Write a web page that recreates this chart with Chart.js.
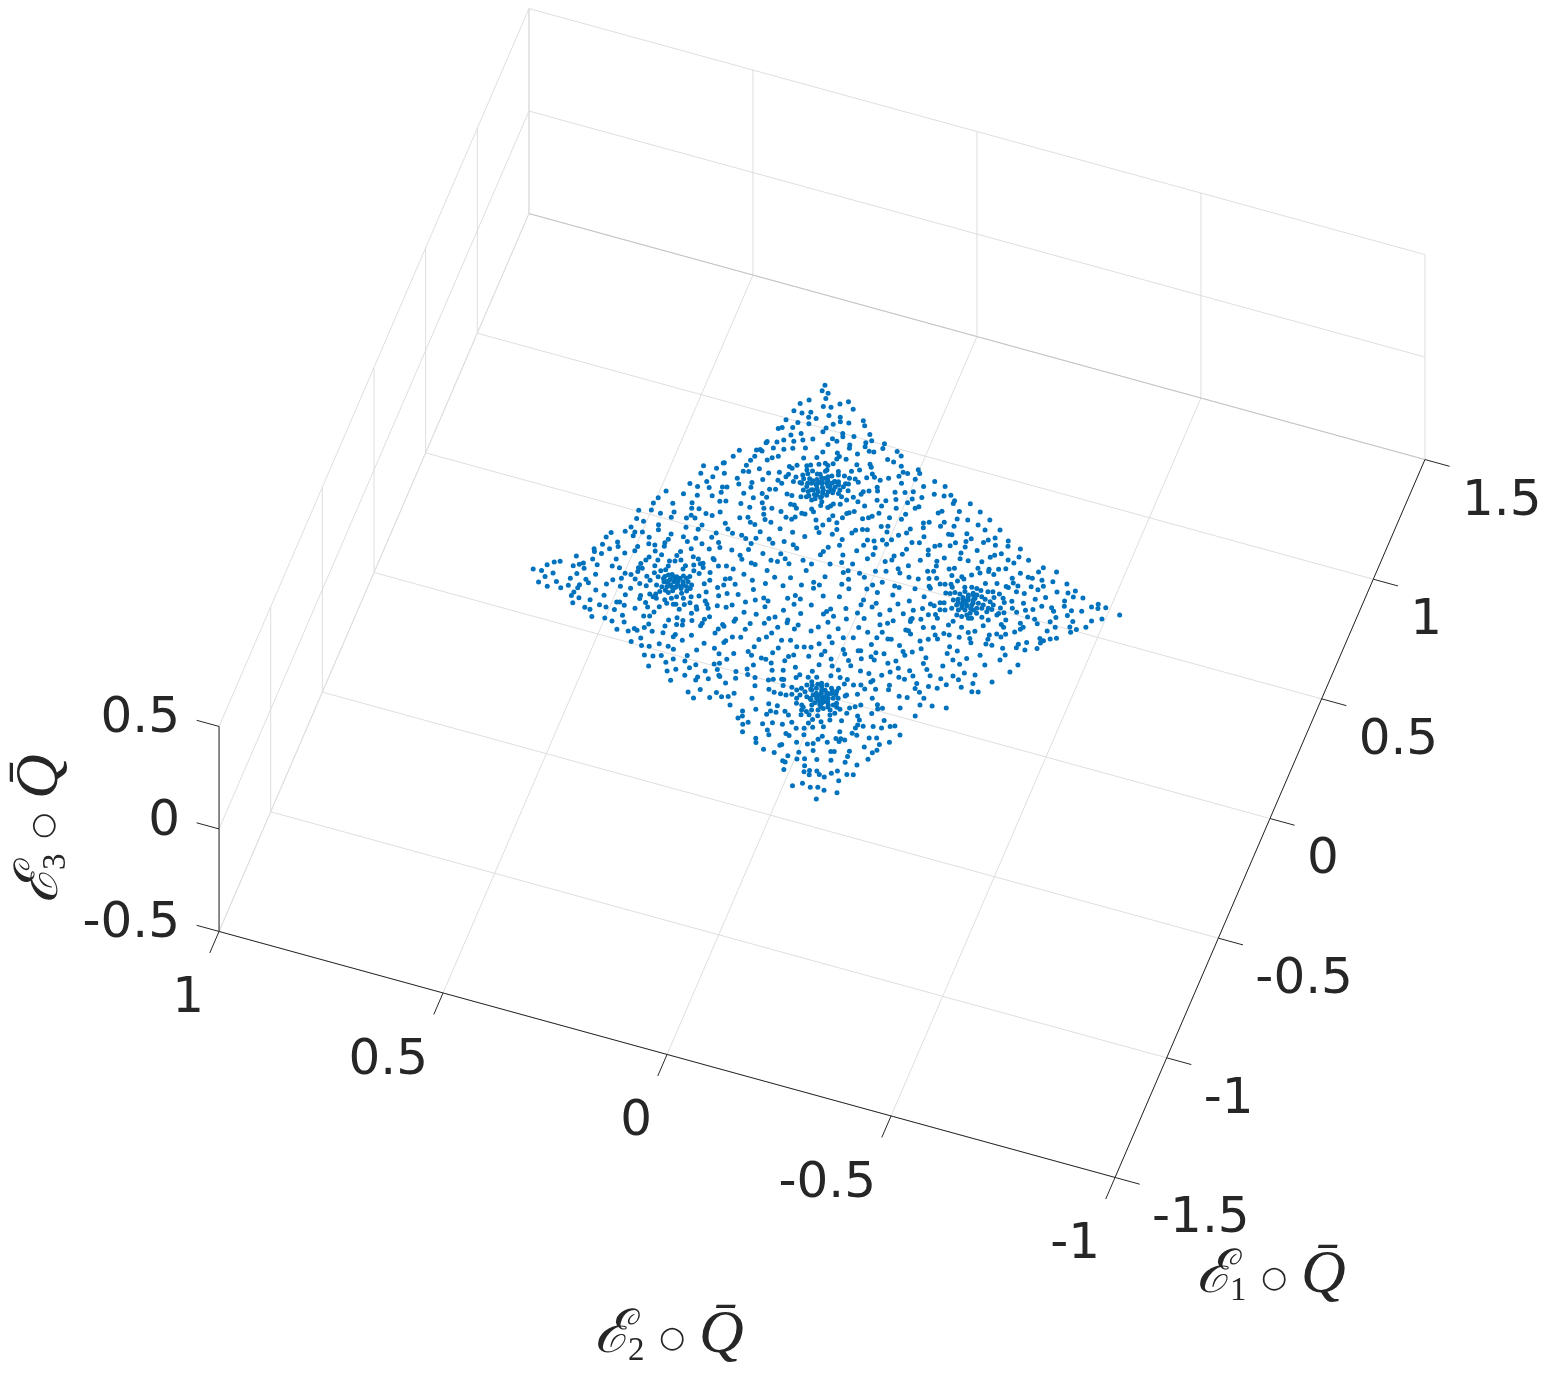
<!DOCTYPE html>
<html>

    <head>
        <title>Surface scatter</title>
        <script src="https://cdnjs.cloudflare.com/ajax/libs/Chart.js/4.4.1/chart.umd.min.js"></script>
        <style>
            body { margin: 0; background: #fff; }
            canvas { display: block; }
        </style>
    </head>

    <body>
        <canvas id="myChart" width="1547" height="1373"></canvas>

        <script>
            // Axis ticks
            const e1Ticks = [-1.5, -1, -0.5, 0, 0.5, 1, 1.5];
            const e2Ticks = [-1, -0.5, 0, 0.5, 1];
            const e3Ticks = [-0.5, 0, 0.5];
            const e1TickLabels = ["-1.5", "-1", "-0.5", "0", "0.5", "1", "1.5"];
            const e2TickLabels = ["-1", "-0.5", "0", "0.5", "1"];
            const e3TickLabels = ["-0.5", "0", "0.5"];

            // All samples sit on one level of the third axis
            const surfaceLevel = 0;

            // Samples as [E1, E2], grouped by part of the surface
            const upperLeftPoints = [[.779,.173],[.756,.174],[.753,.160],[.731,.160],[.686,.207],[.708,.192],[.698,.158],[.652,.213],[.652,.195],[.664,.178],[.643,.178],[.646,.162],[.610,.221],[.612,.195],[.619,.172],[.577,.222],[.570,.229],[.588,.201],[.621,.134],[.603,.137],[.574,.179],[.558,.198],[.532,.208],[.552,.170],[.566,.151],[.538,.187],[.518,.220],[.510,.240],[.504,.241],[.561,.116],[.525,.158],[.511,.183],[.498,.200],[.492,.222],[.467,.254],[.473,.247],[.469,.242],[.449,.288],[.528,.120],[.420,.295],[.442,.252],[.423,.257],[.466,.205],[.454,.216],[.441,.224],[.486,.153],[.501,.127],[.400,.261],[.354,.346],[.384,.309],[.386,.307],[.358,.318],[.452,.160],[.439,.174],[.435,.167],[.400,.232],[.374,.262],[.379,.251],[.347,.298],[.323,.345],[.322,.318],[.394,.210],[.407,.189],[.409,.169],[.397,.172],[.407,.152],[.342,.268],[.363,.216],[.376,.185],[.387,.153],[.274,.358],[.298,.326],[.341,.235],[.322,.260],[.369,.175],[.460,.140],[.467,.133],[.478,.117],[.488,.105],[.482,.098],[.421,.140],[.444,.136],[.431,.131],[.446,.124],[.440,.112],[.442,.106],[.458,.098],[.465,.096],[.390,.139],[.408,.135],[.414,.123],[.395,.123],[.410,.115],[.419,.108],[.411,.101],[.432,.092],[.441,.088]];

            const upperRightPoints = [[.725,.127],[.742,.112],[.703,.142],[.718,.096],[.670,.139],[.675,.115],[.659,.111],[.686,.066],[.642,.123],[.663,.093],[.669,.059],[.617,.096],[.605,.093],[.641,.041],[.617,.071],[.587,.112],[.582,.101],[.620,.032],[.606,.042],[.622,.004],[.581,.072],[.569,.070],[.591,.040],[.602,.003],[.578,.028],[.580,.018],[.606,-.028],[.539,.090],[.556,.049],[.528,.083],[.516,.086],[.593,-.040],[.524,.067],[.566,-.016],[.563,-.030],[.494,.089],[.515,.041],[.530,.015],[.520,.010],[.555,-.049],[.498,.031],[.485,.046],[.471,.072],[.534,-.058],[.534,-.068],[.559,-.086],[.547,-.092],[.496,.002],[.486,-.005],[.460,.056],[.458,.069],[.447,.081],[.457,.044],[.460,.032],[.476,.010],[.481,-.019],[.497,-.034],[.515,-.053],[.521,-.088],[.532,-.129],[.451,.023],[.432,.047],[.492,-.064],[.433,.063],[.429,.071]];

            const midFarLeftPoints = [[.221,.399],[.188,.409],[.163,.414],[.182,.375],[.121,.437],[.135,.412],[.132,.391],[.088,.434],[.085,.418],[.128,.366],[.151,.365],[.087,.385],[.069,.381],[.051,.438],[.029,.446],[.036,.426],[.044,.411],[.010,.473],[.020,.426],[-.012,.479],[.066,.352],[.031,.393],[.043,.353],[-.019,.452],[-.043,.480],[.006,.388],[.008,.375],[.027,.357],[.013,.355],[-.035,.447],[-.015,.408],[-.068,.493],[-.078,.490],[-.053,.462],[-.034,.410],[-.014,.369],[-.079,.474],[-.053,.428],[-.114,.522],[-.022,.353],[-.043,.376],[-.108,.487],[-.084,.440],[-.057,.380],[-.045,.356],[-.037,.332],[-.150,.550],[-.159,.561],[-.176,.573],[-.076,.387],[-.153,.520],[-.142,.509],[-.133,.502],[-.125,.473],[-.094,.388],[-.092,.380],[-.207,.597],[-.204,.579],[-.152,.496],[-.114,.442],[-.113,.426],[-.109,.386],[-.201,.554],[-.179,.506],[-.162,.468],[-.128,.410],[-.127,.397],[-.222,.567],[-.203,.515],[-.191,.483],[-.117,.364],[-.151,.413],[-.139,.385],[-.201,.475],[-.165,.429],[-.250,.575],[-.229,.540],[-.151,.372],[-.129,.354],[-.231,.513],[-.218,.491],[-.257,.554],[-.248,.526],[-.231,.492],[-.187,.438],[-.182,.408],[-.179,.386],[-.153,.357],[-.221,.454],[-.070,.357],[-.096,.352],[-.082,.341],[-.074,.332],[-.057,.330],[-.107,.341],[-.108,.329],[-.090,.322],[-.091,.311],[-.140,.337],[-.141,.325],[-.117,.320],[-.130,.306]];

            const midLeftPoints = [[.270,.340],[.278,.316],[.294,.290],[.299,.281],[.322,.233],[.229,.362],[.237,.333],[.273,.288],[.251,.303],[.292,.242],[.310,.205],[.334,.194],[.340,.182],[.204,.337],[.238,.283],[.245,.271],[.251,.239],[.285,.219],[.301,.193],[.276,.197],[.334,.155],[.333,.144],[.183,.333],[.189,.318],[.246,.218],[.257,.189],[.265,.173],[.262,.152],[.299,.139],[.300,.131],[.290,.124],[.178,.300],[.177,.286],[.198,.273],[.156,.328],[.141,.335],[.150,.318],[.197,.229],[.207,.213],[.234,.184],[.216,.177],[.246,.137],[.244,.124],[.256,.119],[.277,.109],[.278,.102],[.303,.093],[.295,.087],[.326,.078],[.161,.253],[.191,.204],[.187,.193],[.212,.163],[.267,.075],[.255,.057],[.131,.298],[.106,.328],[.111,.302],[.143,.243],[.238,.067],[.197,.139],[.116,.263],[.131,.230],[.165,.176],[.197,.111],[.133,.210],[.223,.058],[.068,.325],[.075,.299],[.095,.268],[.125,.199],[.137,.179],[.148,.152],[.193,.083],[.054,.313],[.083,.250],[.061,.282],[.135,.141],[.154,.120],[.112,.184],[.151,.099],[.141,.089],[.031,.299],[.049,.263],[.065,.243],[.068,.217],[.087,.184],[.087,.152],[.104,.116],[.010,.318],[-.009,.322],[.156,.033],[.141,.036],[.003,.288],[.000,.276],[.057,.196],[.090,.103],[.017,.247],[.014,.244],[.044,.189],[.070,.130],[.103,.066],[.098,.046],[-.031,.321],[-.021,.310],[-.011,.263],[.040,.167],[.038,.158],[.072,.116],[.075,.091],[-.038,.296],[-.027,.280],[-.016,.268],[-.005,.230],[.003,.214],[-.001,.198],[.028,.129],[.068,.051],[-.027,.259],[-.053,.298],[-.048,.275],[-.053,.262],[-.010,.172],[-.038,.241],[.010,.108],[.025,.076],[-.047,.205],[-.040,.196],[-.067,.235],[-.024,.150],[-.086,.243],[-.071,.203],[-.056,.181],[-.023,.121],[-.013,.084],[.009,.048],[.032,.026],[.027,.012],[.009,.021],[-.087,.213],[-.118,.267],[-.057,.140],[.389,.135],[.382,.122],[.399,.115],[.398,.104],[.409,.095],[.366,.126],[.365,.115],[.376,.106],[.375,.095],[.386,.086],[.338,.125],[.344,.114],[.337,.101],[.360,.084],[.361,.095],[.341,.079],[-.088,.304],[-.091,.296],[-.079,.291],[-.084,.283],[-.074,.278],[-.105,.297],[-.100,.287],[-.095,.277],[-.125,.296],[-.120,.286],[-.115,.276],[-.104,.267],[-.102,.305],[-.105,.315],[-.115,.318],[-.125,.310],[-.130,.298],[-.110,.305],[-.098,.300],[-.120,.325],[-.135,.315],[-.085,.315],[-.145,.300],[-.100,.328],[-.118,.295],[-.150,.315],[-.108,.285],[-.128,.285]];

            const midRightPoints = [[.415,.085],[.406,.076],[.429,.070],[.420,.060],[.397,.066],[.403,.053],[.419,.049],[.434,.041],[.385,.075],[.389,.053],[.409,.036],[.380,.044],[.373,.031],[.390,.020],[.452,-.019],[.502,-.111],[.524,-.154],[.429,-.006],[.421,.005],[.409,.007],[.438,-.023],[.451,-.059],[.461,-.079],[.472,-.095],[.484,-.139],[.488,-.160],[.497,-.173],[.459,-.117],[.444,-.099],[.425,-.067],[.410,-.048],[.403,-.030],[.425,-.093],[.378,.007],[.481,-.185],[.469,-.185],[.486,-.219],[.350,.040],[.344,.054],[.334,.058],[.325,.062],[.369,-.010],[.386,-.044],[.393,-.075],[.412,-.113],[.422,-.119],[.445,-.204],[.428,-.169],[.418,-.163],[.338,.006],[.328,.015],[.322,.019],[.300,.045],[.302,.024],[.281,.049],[.356,-.045],[.380,-.099],[.338,-.034],[.329,-.028],[.319,-.017],[.350,-.070],[.357,-.095],[.415,-.206],[.422,-.228],[.278,.031],[.366,-.142],[.374,-.153],[.390,-.183],[.371,-.179],[.348,-.146],[.317,-.074],[.309,-.061],[.385,-.206],[.252,.025],[.269,-.013],[.279,-.026],[.283,-.036],[.330,-.121],[.255,-.008],[.295,-.077],[.230,.030],[.311,-.117],[.294,-.103],[.349,-.202],[.351,-.209],[.370,-.238],[.315,-.155],[.221,.006],[.245,-.045],[.248,-.059],[.260,-.075],[.270,-.093],[.356,-.251],[.340,-.243],[.281,-.136],[.288,-.151],[.325,-.223],[.248,-.087],[.221,-.042],[.196,.006],[.224,-.067],[.290,-.185],[.299,-.194],[.308,-.215],[.177,.027],[.319,-.246],[.250,-.131],[.193,-.033],[.270,-.175],[.252,-.179],[.227,-.127],[.196,-.069],[.163,-.009],[.292,-.243],[.212,-.112],[.175,-.061],[.195,-.111],[.182,-.099],[.223,-.168],[.256,-.214],[.270,-.246],[.236,-.202],[.270,-.264],[.134,-.013],[.117,.009],[.140,-.036],[.190,-.149],[.218,-.205],[.196,-.204],[.190,-.192],[.220,-.233],[.228,-.243],[.147,-.109],[.136,-.088],[.169,-.131],[.155,-.138],[.110,-.033],[.098,-.025],[.112,-.058],[.102,-.071],[.199,-.244],[.064,.008],[.148,-.160],[.151,-.180],[.164,-.201],[.173,-.216],[.221,-.283],[.204,-.265],[.198,-.271],[.184,-.260],[.079,-.041],[.102,-.111],[.082,-.094],[.101,-.139],[.100,-.149],[.053,-.032],[.155,-.228],[.159,-.238],[.165,-.250],[.135,-.208],[.155,-.255],[.168,-.280],[.175,-.294],[.061,-.086],[.043,-.050],[.111,-.182],[.129,-.212],[.465,-.246],[.445,-.272],[.403,-.271],[.418,-.301],[.414,-.253],[.383,-.298]];

            const farRightPoints = [[.369,-.286],[.354,-.279],[.356,-.305],[.385,-.327],[.365,-.331],[.318,-.273],[.368,-.358],[.331,-.324],[.318,-.312],[.306,-.305],[.337,-.362],[.314,-.343],[.281,-.292],[.334,-.384],[.309,-.357],[.252,-.290],[.260,-.313],[.251,-.314],[.237,-.298],[.270,-.332],[.279,-.346],[.321,-.420],[.301,-.414],[.277,-.379],[.319,-.450],[.245,-.327],[.270,-.398],[.271,-.407],[.250,-.367],[.273,-.428],[.279,-.451],[.203,-.318],[.215,-.341],[.234,-.373],[.227,-.385],[.213,-.362],[.212,-.367],[.238,-.412],[.252,-.436],[.285,-.481],[.234,-.428],[.267,-.504],[.245,-.468],[.204,-.387],[.206,-.404],[.252,-.491],[.175,-.330],[.180,-.340],[.178,-.355],[.243,-.505],[.213,-.450],[.249,-.525],[.160,-.347],[.166,-.366],[.195,-.431],[.219,-.491],[.164,-.386],[.151,-.372],[.168,-.411],[.176,-.450],[.199,-.495],[.241,-.561],[.224,-.550],[.225,-.564],[.236,-.579],[.180,-.471],[.155,-.435],[.138,-.393],[.127,-.369],[.144,-.421],[.169,-.478],[.190,-.513],[.198,-.534],[.113,-.380],[.128,-.405],[.105,-.370],[.168,-.509],[.223,-.613],[.121,-.431],[.148,-.488],[.120,-.447],[.190,-.581],[.172,-.562],[.151,-.525],[.088,-.390],[.127,-.480],[.090,-.422],[.106,-.456],[.066,-.385],[.043,-.350],[.058,-.392],[.111,-.495],[.078,-.431],[.143,-.556],[.127,-.524],[.125,-.539],[.068,-.427],[.052,-.418],[.089,-.482],[.108,-.530],[.014,-.338],[.026,-.384],[.034,-.402],[.015,-.370],[.019,-.395],[-.003,-.371],[.054,-.474],[.071,-.507],[.062,-.495],[.049,-.483],[.037,-.479],[.025,-.451],[.010,-.436],[-.021,-.384],[-.022,-.371],[-.005,-.435],[-.021,-.408],[.013,-.477],[-.005,-.454],[.176,-.305],[.172,-.315],[.151,-.311],[.150,-.322],[.144,-.331],[.140,-.343],[.131,-.352],[.122,-.321],[.121,-.332],[.114,-.345],[.102,-.322],[.107,-.332],[.099,-.345],[.113,-.353],[.083,-.326],[.073,-.340],[.070,-.355],[.097,-.368],[.137,-.310],[-.102,-.387],[-.068,-.413],[-.068,-.453],[-.158,-.416],[-.210,-.397],[-.044,-.419],[-.070,-.369],[-.102,-.443],[-.149,-.376],[-.350,-.255],[-.364,-.292],[-.309,-.317],[-.302,-.347],[-.422,-.260],[-.451,-.278],[-.318,-.292]];

            const lowFarLeftPoints = [[-.251,.496],[-.266,.498],[-.232,.433],[-.267,.481],[-.292,.489],[-.263,.457],[-.208,.391],[-.195,.360],[-.208,.359],[-.244,.402],[-.241,.396],[-.216,.344],[-.297,.461],[-.274,.419],[-.272,.434],[-.249,.384],[-.299,.449],[-.275,.400],[-.249,.360],[-.231,.336],[-.218,.313],[-.243,.319],[-.324,.439],[-.316,.412],[-.288,.379],[-.269,.336],[-.263,.324],[-.320,.395],[-.311,.370],[-.258,.283],[-.294,.319],[-.311,.325],[-.346,.378],[-.341,.354],[-.325,.344],[-.329,.337],[-.317,.306],[-.284,.285],[-.312,.283],[-.354,.323],[-.316,.259],[-.377,.339],[-.381,.315],[-.376,.299],[-.357,.281],[-.357,.261],[-.363,.248],[-.414,.301],[-.409,.283],[-.398,.267],[-.399,.240],[-.419,.252],[-.451,.283],[-.450,.242],[-.481,.227],[-.180,.343],[-.187,.334],[-.190,.326],[-.161,.325],[-.156,.307],[-.187,.308],[-.174,.296],[-.195,.287],[-.198,.301],[-.174,.331],[-.513,.087],[-.553,.060]];

            const lowLeftPoints = [[-.115,.232],[-.116,.204],[-.099,.189],[-.092,.166],[-.137,.243],[-.148,.258],[-.162,.272],[-.172,.255],[-.192,.282],[-.184,.265],[-.150,.226],[-.160,.220],[-.174,.214],[-.180,.239],[-.189,.236],[-.155,.198],[-.152,.179],[-.137,.169],[-.112,.145],[-.095,.127],[-.078,.112],[-.085,.101],[-.110,.102],[-.055,.064],[-.037,.051],[-.045,.038],[-.071,.046],[-.056,.011],[-.207,.271],[-.210,.243],[-.152,.139],[-.147,.113],[-.104,.062],[-.098,.025],[-.241,.268],[-.245,.254],[-.236,.236],[-.204,.204],[-.219,.212],[-.150,.084],[-.138,.073],[-.136,.045],[-.147,.044],[-.010,-.005],[-.077,-.021],[-.186,.150],[-.196,.151],[-.236,.213],[-.247,.214],[-.267,.263],[-.263,.251],[-.220,.171],[-.225,.167],[-.188,.117],[-.172,.089],[-.144,.020],[-.173,.059],[-.241,.176],[-.214,.122],[-.163,.024],[-.131,-.022],[-.259,.179],[-.201,.066],[-.221,.073],[-.153,-.011],[-.305,.257],[-.292,.224],[-.256,.141],[-.249,.124],[-.238,.086],[-.218,.040],[-.209,.022],[-.277,.151],[-.286,.153],[-.309,.192],[-.320,.238],[-.193,-.038],[-.317,.167],[-.270,.089],[-.227,.004],[-.220,-.011],[-.214,-.025],[-.342,.201],[-.294,.097],[-.274,.047],[-.250,.040],[-.261,.003],[-.272,.012],[-.250,-.028],[-.231,-.052],[-.333,.153],[-.317,.124],[-.372,.215],[-.305,.087],[-.305,.065],[-.305,.055],[-.291,.016],[-.345,.133],[-.395,.215],[-.314,.041],[-.376,.154],[-.368,.144],[-.398,.190],[-.415,.200],[-.339,.075],[-.271,-.056],[-.435,.226],[-.393,.143],[-.361,.084],[-.340,.033],[-.328,.011],[-.305,-.011],[-.411,.166],[-.382,.104],[-.302,-.048],[-.328,-.026],[-.342,-.021],[-.413,.135],[-.417,.132],[-.381,.078],[-.448,.203],[-.441,.176],[-.455,.177],[-.437,.153],[-.407,.099],[-.384,.061],[-.372,.023],[-.380,.032],[-.364,.006],[-.362,.002],[-.435,.115],[-.415,.054],[-.485,.160],[-.385,-.002],[-.507,.182],[-.480,.125],[-.465,.089],[-.483,.098],[-.491,.111],[-.506,.134],[-.524,.166],[-.420,.010],[-.419,-.004],[-.418,-.016],[-.409,-.027],[-.414,.023],[-.465,.049],[-.383,-.021],[-.388,-.033],[-.377,-.041],[-.359,-.049],[-.342,-.056],[-.329,-.045],[-.320,-.062],[-.338,-.077],[-.386,-.051],[-.373,-.063],[-.362,-.071],[-.363,-.083],[-.404,-.044],[-.403,-.059],[-.390,-.070],[-.383,-.084],[-.406,-.067],[-.399,-.080],[-.392,-.093],[-.419,-.040],[-.163,.287],[-.145,.280],[-.131,.272]];

            const lowRightPoints = [[.059,-.110],[.065,-.143],[.091,-.207],[.004,-.038],[.016,-.089],[-.004,-.088],[.017,-.117],[-.001,-.112],[.037,-.161],[.060,-.181],[.070,-.226],[.067,-.235],[.085,-.244],[.089,-.252],[.127,-.247],[.058,-.250],[.063,-.260],[-.051,-.031],[-.033,-.061],[-.064,-.025],[-.038,-.088],[.029,-.197],[.045,-.214],[-.021,-.134],[.006,-.150],[.006,-.180],[.028,-.231],[.036,-.245],[-.075,-.043],[-.072,-.071],[-.052,-.106],[-.007,-.200],[-.003,-.202],[.003,-.220],[.024,-.252],[-.103,-.037],[-.059,-.143],[-.046,-.157],[-.031,-.166],[-.016,-.201],[.029,-.286],[.010,-.280],[-.117,-.063],[-.091,-.103],[-.052,-.199],[-.052,-.205],[-.025,-.232],[-.015,-.252],[.015,-.308],[-.100,-.125],[-.085,-.154],[-.062,-.212],[-.041,-.262],[-.026,-.278],[-.026,-.290],[.002,-.326],[-.156,-.052],[-.145,-.081],[-.135,-.101],[-.111,-.148],[-.104,-.171],[-.102,-.178],[-.079,-.237],[-.064,-.252],[-.053,-.270],[-.025,-.312],[-.018,-.334],[-.175,-.063],[-.142,-.143],[-.117,-.200],[-.033,-.340],[-.070,-.301],[-.107,-.246],[-.189,-.091],[-.179,-.122],[-.176,-.127],[-.135,-.212],[-.128,-.231],[-.215,-.056],[-.168,-.159],[-.163,-.176],[-.078,-.320],[-.098,-.302],[-.205,-.098],[-.148,-.219],[-.188,-.153],[-.205,-.135],[-.197,-.162],[-.135,-.263],[-.237,-.075],[-.225,-.111],[-.116,-.319],[-.096,-.345],[-.178,-.206],[-.195,-.192],[-.159,-.263],[-.149,-.304],[-.125,-.336],[-.262,-.083],[-.242,-.120],[-.203,-.217],[-.271,-.099],[-.252,-.144],[-.201,-.242],[-.178,-.275],[-.225,-.204],[-.253,-.163],[-.153,-.353],[-.300,-.089],[-.297,-.109],[-.246,-.190],[-.217,-.253],[-.198,-.287],[-.176,-.333],[-.236,-.226],[-.297,-.125],[-.238,-.239],[-.199,-.311],[-.184,-.347],[-.275,-.177],[-.282,-.174],[-.241,-.267],[-.215,-.327],[-.183,-.379],[-.311,-.142],[-.317,-.123],[-.304,-.157],[-.275,-.214],[-.240,-.293],[-.238,-.312],[-.209,-.359],[-.261,-.268],[-.315,-.168],[-.305,-.190],[-.293,-.216],[-.271,-.280],[-.339,-.115],[-.342,-.158],[-.215,-.384],[-.307,-.243],[-.303,-.260],[-.342,-.191],[-.289,-.294],[-.361,-.135],[.130,-.256],[.138,-.265],[.138,-.276],[.152,-.284],[.143,-.294],[.154,-.302],[.109,-.268],[.116,-.277],[.119,-.288],[.124,-.298],[.129,-.308],[.093,-.279],[.099,-.289],[.104,-.299],[.109,-.309],[.076,-.272],[.076,-.287],[.083,-.300],[.076,-.313],[.056,-.288],[.055,-.299],[.059,-.320],[.056,-.314],[.066,-.308],[.092,-.317],[-.339,-.089],[-.346,-.101],[-.370,-.096],[-.365,-.106],[-.353,-.114],[-.387,-.103],[-.377,-.123],[-.356,-.137],[-.382,-.113]];

            const bottomPoints = [[-.468,.011],[-.467,-.008],[-.502,.032],[-.522,.057],[-.494,.001],[-.493,-.011],[-.510,.006],[-.480,-.028],[-.490,-.038],[-.476,-.063],[-.468,-.079],[-.463,-.097],[-.424,-.153],[-.379,-.174],[-.361,-.207],[-.369,-.220],[-.376,-.211],[-.391,-.164],[-.401,-.154],[-.399,-.203],[-.541,.053],[-.559,.036],[-.549,.006],[-.536,-.013],[-.531,-.034],[-.514,-.051],[-.500,-.085],[-.482,-.090],[-.482,-.109],[-.466,-.125],[-.457,-.149],[-.423,-.177],[-.436,-.184],[-.413,-.234],[-.572,.045],[-.511,-.097],[-.498,-.118],[-.532,-.065],[-.524,-.081],[-.568,-.009],[-.456,-.197],[-.446,-.217],[-.457,-.185],[-.470,-.183],[-.443,-.235],[-.429,-.251],[-.600,.039],[-.500,-.155],[-.493,-.181],[-.584,-.016],[-.562,-.049],[-.566,-.057],[-.548,-.086],[-.496,-.192],[-.535,-.124],[-.550,-.118],[-.529,-.153],[-.525,-.163],[-.537,-.162],[-.526,-.172],[-.493,-.219],[-.486,-.234],[-.611,.007],[-.626,.003],[-.584,-.078],[-.579,-.101],[-.571,-.112],[-.552,-.139],[-.507,-.245],[-.488,-.263],[-.607,-.050],[-.612,-.047],[-.532,-.217],[-.644,-.018],[-.598,-.118],[-.583,-.154],[-.580,-.161],[-.563,-.191],[-.531,-.245],[-.545,-.238],[-.645,-.042],[-.619,-.091],[-.643,-.072],[-.585,-.192],[-.646,-.093],[-.637,-.108],[-.627,-.133],[-.574,-.235],[-.667,-.066],[-.669,-.072],[-.616,-.162],[-.609,-.192],[-.663,-.114],[-.607,-.218],[-.699,-.076],[-.686,-.118],[-.676,-.128],[-.670,-.143],[-.649,-.184],[-.692,-.131],[-.681,-.151],[-.664,-.174],[-.653,-.206],[-.647,-.219],[-.685,-.163],[-.684,-.195],[-.731,-.125],[-.750,-.107],[-.738,-.144],[-.730,-.159],[-.735,-.174],[-.731,-.202],[-.775,-.166],[-.438,-.044],[-.439,-.056],[-.446,-.061],[-.429,-.076],[-.417,-.080],[-.417,-.091],[-.403,-.099],[-.412,-.109],[-.407,-.119],[-.412,-.128],[-.429,-.117],[-.436,-.129],[-.430,-.102],[-.441,-.093],[-.448,-.080],[-.459,-.071],[-.448,-.121],[-.458,-.060],[-.397,-.124],[-.416,-.136],[-.375,-.085],[-.385,-.095],[-.395,-.090],[-.405,-.085],[-.410,-.095],[-.380,-.075],[-.390,-.078],[-.400,-.105],[-.370,-.100],[-.360,-.090],[-.350,-.080],[-.420,-.110],[-.425,-.095],[-.345,-.070],[-.355,-.105]];

            const clusterPoints = [[.395,.090],[.405,.080],[.375,.085],[.385,.100],[.370,.075],[.360,.100],[.415,.095],[.425,.085],[.395,.070],[.355,.085],[.345,.095],[.430,.100],[.385,.065],[.410,.065],[.375,.110],[.350,.110],[.420,.075],[.400,.105],[.120,-.295],[.128,-.285],[.110,-.290],[.100,-.300],[.135,-.295],[.095,-.310],[.118,-.310],[.105,-.280],[.088,-.292],[.145,-.305],[-.370,-.060],[-.355,-.060],[-.410,-.070],[-.365,-.115]];

            const surfacePoints = upperLeftPoints.concat(upperRightPoints, midFarLeftPoints, midLeftPoints, midRightPoints, farRightPoints, lowFarLeftPoints, lowLeftPoints, lowRightPoints, bottomPoints, clusterPoints);

            // Fixed orthographic view of the axes box
            function project(e1, e2, e3) {
                return {
                    x: 822 + 103.3 * e1 - 448 * e2,
                    y: 593 - 239.3 * e1 - 123 * e2 - 205 * e3
                };
            }

            function lineDataset(from, to, color) {
                return {
                    data: [project(...from), project(...to)],
                    showLine: true,
                    borderColor: color,
                    borderWidth: 1,
                    pointRadius: 0
                };
            }

            const e1Min = e1Ticks[0], e1Max = e1Ticks[e1Ticks.length - 1];
            const e2Min = e2Ticks[0], e2Max = e2Ticks[e2Ticks.length - 1];
            const e3Min = e3Ticks[0], e3Max = e3Ticks[e3Ticks.length - 1];
            const gridColor = "#dedede";
            const edgeColor = "#c4c4c4";
            const axisColor = "#262626";

            function buildBox() {
                let lines = [];
                // floor and the two back walls
                e1Ticks.forEach(v => {
                    lines.push(lineDataset([v, e2Min, e3Min], [v, e2Max, e3Min], v == e1Max ? edgeColor : gridColor));
                    lines.push(lineDataset([v, e2Max, e3Min], [v, e2Max, e3Max], gridColor));
                });
                e2Ticks.forEach(v => {
                    lines.push(lineDataset([e1Min, v, e3Min], [e1Max, v, e3Min], gridColor));
                    lines.push(lineDataset([e1Max, v, e3Min], [e1Max, v, e3Max], gridColor));
                });
                e3Ticks.forEach(v => {
                    lines.push(lineDataset([e1Min, e2Max, v], [e1Max, e2Max, v], gridColor));
                    lines.push(lineDataset([e1Max, e2Min, v], [e1Max, e2Max, v], gridColor));
                });
                // axis rulers
                lines.unshift(lineDataset([e1Min, e2Min, e3Min], [e1Max, e2Min, e3Min], axisColor));
                lines.unshift(lineDataset([e1Min, e2Min, e3Min], [e1Min, e2Max, e3Min], axisColor));
                lines.unshift(lineDataset([e1Min, e2Max, e3Min], [e1Min, e2Max, e3Max], axisColor));
                // tick marks
                e1Ticks.forEach(v => lines.unshift(lineDataset([v, e2Min, e3Min], [v, e2Min - 0.055, e3Min], axisColor)));
                e2Ticks.forEach(v => lines.unshift(lineDataset([e1Min, v, e3Min], [e1Min - 0.09, v, e3Min], axisColor)));
                e3Ticks.forEach(v => lines.unshift(lineDataset([e1Min, e2Max, v], [e1Min, e2Max + 0.05, v], axisColor)));
                return lines;
            }

            // Tick labels and axis titles
            const axisLabelPlugin = {
                id: "axisLabels",
                afterDraw(chart) {
                    const ctx = chart.ctx;
                    const sx = chart.scales.x, sy = chart.scales.y;
                    const at = p => ({ x: sx.getPixelForValue(p.x), y: sy.getPixelForValue(p.y) });
                    ctx.save();
                    ctx.fillStyle = axisColor;
                    ctx.font = '50px "DejaVu Sans"';
                    ctx.textBaseline = "middle";

                    ctx.textAlign = "left";
                    e1Ticks.forEach((v, i) => {
                        let p = at(project(v, e2Min, e3Min));
                        ctx.fillText(e1TickLabels[i], p.x + 37, p.y + 42);
                    });
                    ctx.textAlign = "right";
                    e2Ticks.forEach((v, i) => {
                        let p = at(project(e1Min, v, e3Min));
                        ctx.fillText(e2TickLabels[i], p.x - 15, p.y + 68);
                    });
                    e3Ticks.forEach((v, i) => {
                        let p = at(project(e1Min, e2Max, v));
                        ctx.fillText(e3TickLabels[i], p.x - 39, p.y - 7);
                    });
                    ctx.restore();

                    drawTitle(ctx, "1", 1198, 1292, 0);
                    drawTitle(ctx, "2", 596, 1352, 0);
                    drawTitle(ctx, "3", 57, 902, -Math.PI / 2);
                }
            };

            function drawTitle(ctx, index, x, y, angle) {
                ctx.save();
                ctx.translate(x, y);
                ctx.rotate(angle);
                ctx.fillStyle = axisColor;
                ctx.textAlign = "left";
                ctx.textBaseline = "alphabetic";
                ctx.font = 'italic 60px "DejaVu Serif"';
                ctx.fillText("\u2130", -2, 0);
                ctx.font = '33px "Liberation Serif"';
                ctx.fillText(index, 32, 8);
                ctx.font = '30px "DejaVu Sans"';
                ctx.fillText("\u25CB", 63, -5);
                ctx.font = 'italic 62px "Liberation Serif"';
                ctx.fillText("Q\u0304", 103, 0);
                ctx.restore();
            }

            // Create Chart
            function createChart() {
                const ctx = document.getElementById("myChart");
                const pointData = surfacePoints.map(p => project(p[0], p[1], surfaceLevel));
                new Chart(ctx, {
                    type: "scatter",
                    data: {
                        datasets: [{
                            data: pointData,
                            backgroundColor: "#0072BD",
                            borderWidth: 0,
                            pointRadius: 2.5
                        }].concat(buildBox())
                    },
                    options: {
                        responsive: false,
                        animation: false,
                        layout: { padding: 0, autoPadding: false },
                        plugins: { legend: { display: false }, tooltip: { enabled: false } },
                        scales: {
                            x: { type: "linear", display: false, min: 0, max: 1547 },
                            y: { type: "linear", display: false, min: 0, max: 1373, reverse: true }
                        }
                    },
                    plugins: [axisLabelPlugin]
                });
            }

            createChart();
        </script>
    </body>

</html>
